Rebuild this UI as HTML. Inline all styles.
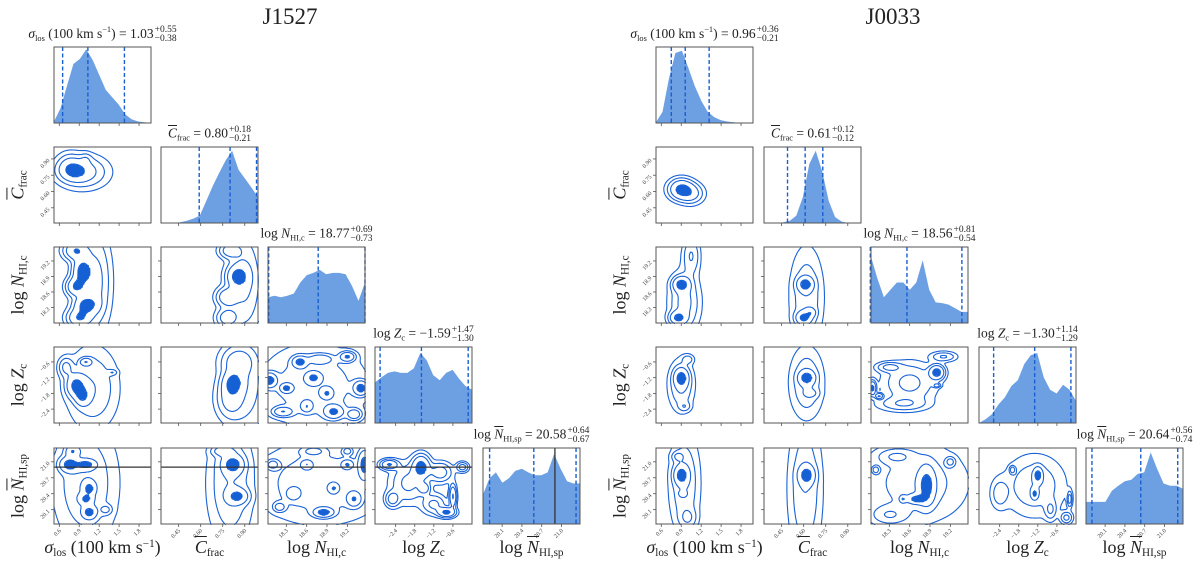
<!DOCTYPE html>
<html><head><meta charset="utf-8">
<style>
body{margin:0;background:#fff;width:1200px;height:572px;overflow:hidden;position:relative;font-family:"Liberation Serif",serif;}
svg{position:absolute;left:0;top:0;}
.lbl{position:absolute;white-space:nowrap;color:#222;font-family:"Liberation Serif",serif;line-height:1;}
.ttl{font-size:13.5px;transform:translateX(-50%);}
.ss{display:inline-block;vertical-align:middle;font-size:9.5px;line-height:8.5px;text-align:left;margin-left:1px}
.ol{text-decoration:overline}
.ax{font-size:18px;transform:translateX(-50%);}
.ay{font-size:18px;transform:translate(-50%,-50%) rotate(-90deg);}
sub{font-size:62%;vertical-align:-3px}
sup{font-size:62%;vertical-align:6px}
</style></head><body>
<svg id="chart" width="1200" height="572"></svg>
<div class="lbl" style="left:290px;top:5px;font-size:23px;transform:translateX(-50%)">J1527</div>
<div class="lbl" style="left:893px;top:5px;font-size:23px;transform:translateX(-50%)">J0033</div>
<div id="labels"></div>
<script>
// ---------- shared axes data ----------
const xRanges=[[0.52,1.98],[0.33,0.99],[18.03,19.46],[-3.05,0],[19.81,21.28]];
const yRanges=[[0.52,1.98],[0.31,1.01],[18.0,19.47],[-2.93,-0.03],[19.83,21.26]];
const tickVals=[[0.6,0.9,1.2,1.5,1.8],[0.45,0.6,0.75,0.9],[18.3,18.6,18.9,19.2],[-2.4,-1.8,-1.2,-0.6],[20.1,20.4,20.7,21.0]];
const tickLabels=[["0.6","0.9","1.2","1.5","1.8"],["0.45","0.60","0.75","0.90"],["18.3","18.6","18.9","19.2"],["−2.4","−1.8","−1.2","−0.6"],["20.1","20.4","20.7","21.0"]];

// ---------- J1527 data ----------
const j1527_hist_sigma=[0.02,0.2,0.5,0.8,0.87,1.0,0.85,0.65,0.45,0.35,0.25,0.12,0.05,0.02,0.01,0.0];
const j1527_hist_cfrac=[0,0,0,0.01,0.03,0.06,0.1,0.3,0.5,0.68,0.85,0.98,0.72,0.6,0.48,0.35];
const j1527_hist_nhic=[0.35,0.37,0.35,0.37,0.4,0.55,0.65,0.68,0.72,0.66,0.68,0.68,0.66,0.5,0.3,0.55];
const j1527_hist_z=[0.55,0.62,0.68,0.7,0.68,0.68,0.74,0.95,0.85,0.65,0.58,0.68,0.72,0.6,0.5,0.45];
const j1527_hist_nhisp=[0.4,0.62,0.7,0.56,0.62,0.72,0.75,0.7,0.66,0.66,0.7,0.95,0.75,0.58,0.55,0.55];
const j1527_quantiles=[[0.65,1.03,1.58],[0.59,0.80,0.98],[18.04,18.77,19.46],[-2.89,-1.59,-0.12],[19.91,20.58,21.22]];
const j1527_truth=20.9;
const j1527_c_sig_C=[[0.82,0.79,0.12,0.05,1],[0.95,0.78,0.2,0.08,0.8],[1.0,0.9,0.05,0.03,0.3],[0.75,0.85,0.1,0.06,0.4]];
const j1527_c_sig_N=[[0.85,19.4,0.1,0.1,0.8],[0.95,19.0,0.08,0.15,1],[0.85,18.7,0.08,0.1,0.8],[1.0,18.35,0.1,0.1,0.9],[0.9,18.1,0.1,0.1,0.8],[1.15,18.8,0.12,0.5,0.45]];
const j1527_c_C_N=[[0.85,18.9,0.04,0.12,1],[0.78,18.5,0.04,0.1,0.8],[0.8,19.4,0.04,0.08,0.7],[0.78,18.1,0.04,0.1,0.7],[0.9,18.8,0.06,0.5,0.5]];
const j1527_c_sig_Z=[[0.85,-1.5,0.08,0.25,1],[0.95,-1.9,0.06,0.2,0.8],[1.0,-0.6,0.05,0.08,0.8],[0.7,-0.8,0.06,0.2,0.5],[1.1,-1.6,0.2,0.8,0.4],[1.4,-1.0,0.04,0.06,0.3]];
const j1527_c_C_Z=[[0.82,-1.4,0.04,0.25,1],[0.8,-2.0,0.05,0.4,0.6],[0.85,-0.6,0.06,0.3,0.6],[0.9,-1.4,0.08,1.0,0.35]];
const j1527_c_N_Z=[[18.05,-1.3,0.06,0.15,1],[18.5,-0.6,0.06,0.12,0.9],[18.3,-1.6,0.05,0.1,0.8],[18.7,-1.2,0.06,0.12,0.7],[19.0,-2.5,0.08,0.15,0.8],[19.4,-1.6,0.06,0.15,1],[19.2,-0.4,0.06,0.1,0.8],[18.25,-2.5,0.08,0.1,0.7],[18.6,-2.3,0.05,0.12,0.6],[18.9,-1.8,0.05,0.12,0.6],[19.3,-2.6,0.06,0.12,0.6],[18.8,-0.5,0.1,0.1,0.6],[18.7,-1.5,0.4,0.8,0.3]];
const j1527_c_sig_Nsp=[[0.75,20.95,0.08,0.08,1],[1.0,20.95,0.08,0.05,0.9],[1.05,20.5,0.05,0.07,0.8],[1.05,20.05,0.06,0.07,0.9],[0.8,21.2,0.06,0.06,0.7],[1.0,20.3,0.06,0.06,0.7],[1.3,20.1,0.05,0.05,0.4],[1.0,20.6,0.25,0.6,0.35]];
const j1527_c_C_Nsp=[[0.82,20.95,0.04,0.1,1],[0.85,20.35,0.04,0.08,0.9],[0.8,20.6,0.08,0.6,0.4],[0.75,21.2,0.04,0.05,0.6]];
const j1527_c_N_Nsp=[[19.45,20.95,0.05,0.15,1],[18.85,20.05,0.08,0.05,1],[19.2,20.95,0.05,0.05,0.7],[18.6,20.95,0.05,0.05,0.6],[18.1,20.95,0.05,0.05,0.5],[19.0,20.5,0.04,0.05,0.6],[18.4,20.4,0.06,0.07,0.5],[19.3,20.3,0.06,0.08,0.7],[18.7,21.2,0.1,0.05,0.4],[18.2,20.15,0.05,0.05,0.5],[19.2,21.2,0.04,0.04,0.5],[18.8,20.6,0.5,0.4,0.3]];
const j1527_c_Z_Nsp=[[-1.6,20.9,0.15,0.12,1],[-2.6,20.95,0.15,0.05,0.8],[-0.6,20.35,0.06,0.12,0.8],[-0.8,20.05,0.15,0.05,0.9],[-1.5,20.5,0.1,0.06,0.5],[-2.5,20.3,0.12,0.08,0.5],[-1.0,20.8,0.2,0.1,0.5],[-0.3,20.9,0.1,0.05,0.5],[-2.0,20.6,0.3,0.2,0.4],[-1.2,20.2,0.2,0.1,0.4]];

// ---------- J0033 data ----------
const j0033_hist_sigma=[0.01,0.15,0.6,0.95,0.98,0.75,0.5,0.3,0.15,0.08,0.04,0.02,0.01,0,0,0];
const j0033_hist_cfrac=[0,0,0,0.01,0.03,0.1,0.35,0.8,0.98,0.7,0.3,0.08,0.02,0,0,0];
const j0033_hist_nhic=[0.9,0.6,0.35,0.45,0.55,0.55,0.45,0.55,0.85,0.45,0.28,0.27,0.25,0.2,0.15,0.15];
const j0033_hist_z=[0,0.05,0.12,0.25,0.35,0.5,0.58,0.8,0.92,0.95,0.62,0.45,0.4,0.52,0.45,0.3];
const j0033_hist_nhisp=[0.3,0.3,0.3,0.3,0.45,0.52,0.58,0.6,0.68,0.7,0.97,0.75,0.55,0.52,0.52,0.48];
const j0033_quantiles=[[0.75,0.96,1.32],[0.49,0.61,0.73],[18.02,18.56,19.37],[-2.59,-1.30,-0.16],[19.90,20.64,21.20]];
const j0033_c_sig_C=[[0.9,0.62,0.1,0.05,1],[1.05,0.58,0.1,0.05,0.5]];
const j0033_c_sig_N=[[0.9,18.75,0.07,0.08,1],[0.85,18.1,0.07,0.07,0.9],[0.95,18.4,0.12,0.3,0.5],[1.05,19.3,0.07,0.2,0.4]];
const j0033_c_C_N=[[0.61,18.75,0.03,0.08,1],[0.6,18.1,0.03,0.07,0.9],[0.65,18.2,0.02,0.05,0.5],[0.62,18.5,0.06,0.5,0.35]];
const j0033_c_sig_Z=[[0.9,-1.2,0.06,0.2,1],[0.9,-1.5,0.1,0.5,0.45],[0.95,-2.3,0.05,0.1,0.3],[1.0,-0.5,0.05,0.1,0.3]];
const j0033_c_C_Z=[[0.62,-1.2,0.03,0.15,1],[0.62,-1.4,0.06,0.7,0.4],[0.65,-1.8,0.03,0.1,0.3]];
const j0033_c_N_Z=[[19.0,-1.0,0.06,0.15,1],[18.05,-1.6,0.03,0.15,0.9],[18.15,-1.9,0.03,0.06,0.8],[18.6,-1.4,0.2,0.4,0.4],[18.3,-0.8,0.1,0.1,0.4],[19.1,-0.4,0.1,0.1,0.35],[18.5,-2.2,0.2,0.15,0.3],[19.0,-1.5,0.03,0.04,0.5]];
const j0033_c_sig_Nsp=[[0.9,20.75,0.06,0.1,1],[0.92,20.4,0.03,0.03,0.6],[0.95,20.6,0.12,0.5,0.4],[0.85,21.1,0.05,0.05,0.4],[1.0,19.95,0.07,0.1,0.35]];
const j0033_c_C_Nsp=[[0.62,20.75,0.03,0.1,1],[0.61,20.5,0.06,0.7,0.4]];
const j0033_c_N_Nsp=[[18.85,20.55,0.07,0.2,1],[18.7,20.3,0.08,0.05,0.9],[18.5,20.3,0.03,0.04,0.7],[18.1,20.85,0.03,0.04,0.6],[19.2,21.0,0.04,0.05,0.5],[18.7,20.6,0.4,0.4,0.3],[18.3,20.0,0.15,0.1,0.35],[18.4,21.1,0.15,0.08,0.35]];
const j0033_c_Z_Nsp=[[-1.2,20.75,0.08,0.08,1],[-1.3,20.4,0.06,0.06,0.8],[-2.0,20.85,0.05,0.04,0.6],[-0.2,20.3,0.04,0.08,0.6],[-1.3,20.55,0.5,0.3,0.35],[-0.3,19.95,0.1,0.06,0.5],[-0.8,20.1,0.1,0.1,0.4],[-2.4,20.4,0.15,0.15,0.3]];

const contourLevels=[0.05,0.14,0.3,0.7];

const NS='http://www.w3.org/2000/svg';
const svg=document.getElementById('chart');
function mk(tag,attrs,parent){const e=document.createElementNS(NS,tag);for(const k in attrs)e.setAttribute(k,attrs[k]);(parent||svg).appendChild(e);return e;}

const W=97,H=76,WIDEN=1.1;
const rowsY=[47,147,247,347,448];
const sides=[
 {name:'j1527',cols:[54,161,268,375,483],hists:[j1527_hist_sigma,j1527_hist_cfrac,j1527_hist_nhic,j1527_hist_z,j1527_hist_nhisp],q:j1527_quantiles,truth:j1527_truth,
  contours:{'0-1':j1527_c_sig_C,'0-2':j1527_c_sig_N,'1-2':j1527_c_C_N,'0-3':j1527_c_sig_Z,'1-3':j1527_c_C_Z,'2-3':j1527_c_N_Z,'0-4':j1527_c_sig_Nsp,'1-4':j1527_c_C_Nsp,'2-4':j1527_c_N_Nsp,'3-4':j1527_c_Z_Nsp}},
 {name:'j0033',cols:[656,764,871,979,1086],hists:[j0033_hist_sigma,j0033_hist_cfrac,j0033_hist_nhic,j0033_hist_z,j0033_hist_nhisp],q:j0033_quantiles,truth:null,
  contours:{'0-1':j0033_c_sig_C,'0-2':j0033_c_sig_N,'1-2':j0033_c_C_N,'0-3':j0033_c_sig_Z,'1-3':j0033_c_C_Z,'2-3':j0033_c_N_Z,'0-4':j0033_c_sig_Nsp,'1-4':j0033_c_C_Nsp,'2-4':j0033_c_N_Nsp,'3-4':j0033_c_Z_Nsp}}
];

function xScale(i,x0){const r=xRanges[i];return v=>x0+(v-r[0])/(r[1]-r[0])*W;}
function yScale(j,y0){const r=yRanges[j];return v=>y0+H-(v-r[0])/(r[1]-r[0])*H;}

const MS={1:[[3,2]],2:[[2,1]],3:[[3,1]],4:[[0,1]],5:[[3,0],[2,1]],6:[[0,2]],7:[[3,0]],8:[[3,0]],9:[[0,2]],10:[[0,1],[3,2]],11:[[0,1]],12:[[3,1]],13:[[2,1]],14:[[3,2]]};

function drawContour(g,comps,i,j,x0,y0){
  const rx=xRanges[i],ry=yRanges[j],st=1.5;
  const nx=Math.ceil(W/st)+1,ny=Math.ceil(H/st)+1;
  const f=[];let mx=0;
  for(let b=0;b<ny;b++){f.push([]);for(let a=0;a<nx;a++){
    const dx=rx[0]+(a*st/W)*(rx[1]-rx[0]);const dy=ry[1]-(b*st/H)*(ry[1]-ry[0]);
    let s=0;for(const c of comps){const u=(dx-c[0])/(c[2]*WIDEN),w=(dy-c[1])/(c[3]*WIDEN);s+=c[4]*Math.exp(-0.5*(u*u+w*w));}
    f[b].push(s);if(s>mx)mx=s;}}
  const top=contourLevels[contourLevels.length-1]*mx;
  let fd='';
  for(let b=0;b<ny-1;b++)for(let a=0;a<nx-1;a++){
    const m=(f[b][a]+f[b][a+1]+f[b+1][a]+f[b+1][a+1])/4;
    if(m>=top)fd+=`M${(x0+a*st).toFixed(1)},${(y0+b*st).toFixed(1)}h${st+0.3}v${st+0.3}h${-st-0.3}z`;}
  const fill=mk('path',{d:fd,fill:'#1560d4',stroke:'none'},g);
  
  
  for(const lv of contourLevels){
    const t=lv*mx;let d='';
    for(let b=0;b<ny-1;b++)for(let a=0;a<nx-1;a++){
      const v0=f[b][a],v1=f[b][a+1],v2=f[b+1][a+1],v3=f[b+1][a];
      const cs=(v0>=t?8:0)|(v1>=t?4:0)|(v2>=t?2:0)|(v3>=t?1:0);
      const segs=MS[cs];if(!segs)continue;
      const px=x0+a*st,py=y0+b*st;
      const ep=e=>{if(e===0)return[px+st*(t-v0)/(v1-v0),py];if(e===1)return[px+st,py+st*(t-v1)/(v2-v1)];if(e===2)return[px+st*(t-v3)/(v2-v3),py+st];return[px,py+st*(t-v0)/(v3-v0)];};
      for(const s of segs){const p=ep(s[0]),q=ep(s[1]);d+=`M${p[0].toFixed(1)},${p[1].toFixed(1)}L${q[0].toFixed(1)},${q[1].toFixed(1)}`;}
    }
    const ln=mk('path',{d:d,fill:'none',stroke:'#1a63d6','stroke-width':1.1,'stroke-linecap':'round'},g);
    
    
  }
}

for(const S of sides){
  for(let j=0;j<5;j++)for(let i=0;i<=j;i++){
    const x0=S.cols[i],y0=rowsY[j];
    const g=mk('g',{});
    
    
    const sx=xScale(i,x0);
    if(i===j){
      const h=S.hists[i],r=xRanges[i];let d=`M${x0},${y0+H}`;
      h.forEach((v,k)=>{const xv=r[0]+k/(h.length-1)*(r[1]-r[0]);d+=`L${sx(xv).toFixed(1)},${(y0+H-v*H*0.97).toFixed(1)}`;});
      d+=`L${x0+W},${y0+H}Z`;
      const hp=mk('path',{d:d,fill:'#6d9fe3',stroke:'none'},g);
      
      
      for(const qv of S.q[i]){
        const ql=mk('line',{x1:sx(qv),x2:sx(qv),y1:y0,y2:y0+H,stroke:'#1a5fd0','stroke-width':1.4,'stroke-dasharray':'4,2.5'},g);
        
        
      }
      if(S.truth!==null&&i===4){
        const tl=mk('line',{x1:sx(S.truth),x2:sx(S.truth),y1:y0,y2:y0+H,stroke:'#333','stroke-width':1.3},g);
        
        
      }
    } else {
      drawContour(g,S.contours[`${i}-${j}`],i,j,x0,y0);
      const sy=yScale(j,y0);
      if(S.truth!==null&&j===4){
        const tl=mk('line',{x1:x0,x2:x0+W,y1:sy(S.truth),y2:sy(S.truth),stroke:'#333','stroke-width':1.3},g);
        
        
      }
      tickVals[j].forEach((tv,k)=>{const y=sy(tv);mk('line',{x1:x0-3,x2:x0,y1:y,y2:y,stroke:'#555','stroke-width':0.8},g);
        if(i===0){const t=mk('text',{x:x0-4,y:y+2,'font-size':6,'text-anchor':'end',fill:'#444','font-family':'Liberation Serif, serif',transform:`rotate(-45 ${x0-4} ${y+2})`},g);t.textContent=tickLabels[j][k];
          
          }});
    }
    tickVals[i].forEach((tv,k)=>{const x=sx(tv);mk('line',{x1:x,x2:x,y1:y0+H,y2:y0+H+3,stroke:'#555','stroke-width':0.8},g);
      if(j===4){const t=mk('text',{x:x+2,y:y0+H+7,'font-size':6,'text-anchor':'end',fill:'#444','font-family':'Liberation Serif, serif',transform:`rotate(-45 ${x+2} ${y0+H+7})`},g);t.textContent=tickLabels[i][k];
        
        }});
    const bx=mk('rect',{x:x0,y:y0,width:W,height:H,fill:'none',stroke:'#555','stroke-width':1},g);
    
    
  }
}

// ---------- HTML labels ----------
const varHTML=[
 '<i>σ</i><sub>los</sub> (100 km s<sup>−1</sup>)',
 '<i class="ol">C</i><sub>frac</sub>',
 'log <i>N</i><sub>HI,c</sub>',
 'log <i>Z</i><sub>c</sub>',
 'log <i class="ol">N</i><sub>HI,sp</sub>'];
const titleVals=[
 [['1.03','+0.55','−0.38'],['0.80','+0.18','−0.21'],['18.77','+0.69','−0.73'],['−1.59','+1.47','−1.30'],['20.58','+0.64','−0.67']],
 [['0.96','+0.36','−0.21'],['0.61','+0.12','−0.12'],['18.56','+0.81','−0.54'],['−1.30','+1.14','−1.29'],['20.64','+0.56','−0.74']]];
const names=['sigma','cfrac','nhic','z','nhisp'];
let html='';
sides.forEach((S,si)=>{
  for(let i=0;i<5;i++){
    const cx=S.cols[i]+W/2;const tv=titleVals[si][i];
    html+=`<div class="lbl ttl" style="left:${cx}px;top:${rowsY[i]-21}px">${varHTML[i]} = ${tv[0]}<span class="ss">${tv[1]}<br>${tv[2]}</span></div>`;
    html+=`<div class="lbl ax" style="left:${cx}px;top:538px">${varHTML[i]}</div>`;
    if(i>0){const lx=S.cols[0]-35;const cy=rowsY[i]+H/2;
      html+=`<div class="lbl ay" style="left:${lx}px;top:${cy}px">${varHTML[i]}</div>`;}
  }
});
document.getElementById('labels').innerHTML=html;
</script>
</body></html>
